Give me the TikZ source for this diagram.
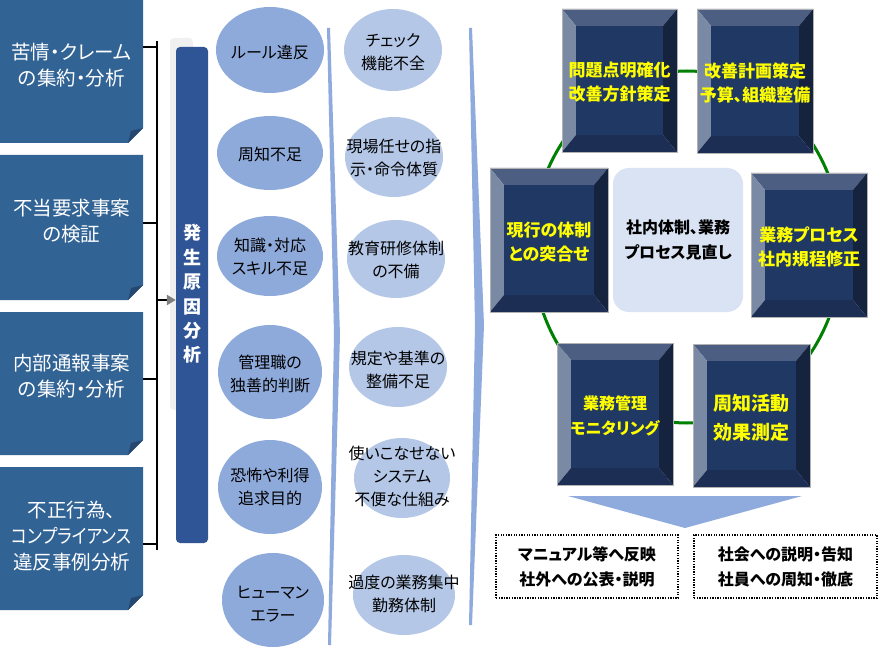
\documentclass[tikz,border=0pt]{standalone}
\usepackage{fontspec}
\setmainfont{Noto Sans CJK JP}[RawFeature=+palt]
\usetikzlibrary{arrows.meta}
\definecolor{lbblue}{RGB}{49,99,149}
\definecolor{lbfold}{RGB}{36,72,112}
\definecolor{pilblue}{RGB}{47,85,151}
\definecolor{pilshadow}{RGB}{240,240,240}
\definecolor{ellA}{RGB}{142,170,219}
\definecolor{ellB}{RGB}{180,199,231}
\definecolor{chev}{RGB}{143,170,220}
\definecolor{bface}{RGB}{32,56,100}
\definecolor{btop}{RGB}{76,94,130}
\definecolor{bleft}{RGB}{122,138,165}
\definecolor{bright}{RGB}{21,35,62}
\definecolor{bbottom}{RGB}{28,46,84}
\definecolor{cyc}{RGB}{0,128,0}
\definecolor{centerfill}{RGB}{218,227,243}
\definecolor{ytext}{RGB}{255,255,0}
\tikzset{
  lbtext/.style={text=white, font=\fontsize{19.5}{26}\selectfont, align=center, inner sep=0pt},
  brk/.style={line width=2.6pt, draw=black},
  pillar/.style={fill=pilblue, rounded corners=4pt, inner sep=0pt, minimum width=32pt, minimum height=496pt},
  piltext/.style={text=white, font=\bfseries\fontsize{18}{24.4}\selectfont, align=center, inner sep=0pt},
  elltext/.style={text=black, font=\fontsize{16}{23}\selectfont, align=center, inner sep=0pt},
  bevtext/.style={text=ytext, font=\bfseries\fontsize{17}{24}\selectfont, align=center, inner sep=0pt},
  centerbox/.style={fill=centerfill, rounded corners=16pt, minimum width=130pt, minimum height=144pt, inner sep=0pt, text=black, font=\bfseries\fontsize{16}{25}\selectfont, align=center},
  dotbox/.style={draw=black, line width=1.3pt, dash pattern=on 1.3pt off 1.3pt, minimum height=63pt, inner sep=0pt, text=black, font=\bfseries\fontsize{16}{25}\selectfont, align=center},
}
\newcommand\LBox[5]{%
  \fill[lbblue] (0,#2) -- (143,#2) -- (143,{#3-15}) -- (128,#3) -- (0,#3) -- cycle;
  \fill[lbfold] (143,{#3-15}) -- (128,#3) -- (131,{#3-12}) -- cycle;
  \node[lbtext] (#1) at (71.5,#4) {#5};
}
\newcommand\Bevel[7]{%
  \fill[btop] (#2,#3) -- (#4,#3) -- ({#4-14},{#3+17}) -- ({#2+14},{#3+17}) -- cycle;
  \fill[bleft] (#2,#3) -- ({#2+14},{#3+17}) -- ({#2+14},{#5-17}) -- (#2,#5) -- cycle;
  \fill[bright] (#4,#3) -- (#4,#5) -- ({#4-14},{#5-17}) -- ({#4-14},{#3+17}) -- cycle;
  \fill[bbottom] (#2,#5) -- ({#2+14},{#5-17}) -- ({#4-14},{#5-17}) -- (#4,#5) -- cycle;
  \fill[bface] ({#2+14},{#3+17}) rectangle ({#4-14},{#5-17});
  \draw[gray!60, line width=0.6pt] (#2,#3) rectangle (#4,#5);
  \node[bevtext,#6] (#1) at ({(#2+#4)/2},{(#3+#5)/2+2}) {#7};
}
\begin{document}
\begin{tikzpicture}[x=1pt,y=-1pt]
\useasboundingbox (0,0) rectangle (878,647);
\fill[white] (0,0) rectangle (878,647);

% left boxes
\LBox{lb1}{0}{143}{65}{苦情・クレーム\\の集約・分析}
\LBox{lb2}{155}{300}{221}{不当要求事案\\の検証}
\LBox{lb3}{312}{455}{376}{内部通報事案\\の集約・分析}
\LBox{lb4}{467}{610}{536}{不正行為、\\\scalebox{0.86}[1]{コンプライアンス}\\違反事例分析}

% pillar
\fill[pilshadow, rounded corners=4pt] (170,38) rectangle (193,410);
\node[pillar] (pil) at (192,295) {};
\node[piltext] (pilt) at (192,294) {発\\生\\原\\因\\分\\析};

% bracket
\coordinate (brtop) at (157,41);
\coordinate (brbot) at (157,550);
\draw[brk] (brtop) -- (brbot);
\draw[brk] (143,47) -- (brtop |- 0,47);
\draw[brk] (143,223) -- (brtop |- 0,223);
\draw[brk] (143,379) -- (brtop |- 0,379);
\draw[brk] (143,544) -- (brtop |- 0,544);
\draw[brk, -{Triangle[length=9pt,width=10pt,color=gray]}] (brtop |- 0,300) -- (pil.west |- 0,300);

% column 1 ellipses
\fill[ellA] (270,50) ellipse [x radius=54pt, y radius=43pt];
\fill[ellA] (270,153) ellipse [x radius=53pt, y radius=37pt];
\fill[ellA] (270,256) ellipse [x radius=53pt, y radius=40pt];
\fill[ellA] (270,372) ellipse [x radius=52pt, y radius=47pt];
\fill[ellA] (270,487) ellipse [x radius=52pt, y radius=47pt];
\fill[ellA] (273,600) ellipse [x radius=51pt, y radius=47pt];
\node[elltext] (a1) at (270,52) {ルール違反};
\node[elltext] (a2) at (270,154) {周知不足};
\node[elltext] (a3) at (270,257) {知識・対応\\スキル不足};
\node[elltext] (a4) at (270,374) {管理職の\\独善的判断};
\node[elltext] (a5) at (270,487) {恐怖や利得\\追求目的};
\node[elltext] (a6) at (273,604) {ヒューマン\\エラー};

% chevrons
\fill[chev] (327,28) -- (330,28) -- (340,335) -- (331,645) -- (328,645) -- (334,335) -- cycle;
\fill[chev] (469,28) -- (472,28) -- (484,325) -- (472,625) -- (469,625) -- (475,325) -- cycle;

% column 2 ellipses
\fill[ellB] (393,50) ellipse [x radius=49pt, y radius=41pt];
\fill[ellB] (394,157) ellipse [x radius=49pt, y radius=40pt];
\fill[ellB] (396,259) ellipse [x radius=49pt, y radius=39pt];
\fill[ellB] (398,367) ellipse [x radius=49pt, y radius=40pt];
\fill[ellB] (402,478) ellipse [x radius=48pt, y radius=40pt];
\fill[ellB] (404,595) ellipse [x radius=51pt, y radius=40pt];
\node[elltext] (c1) at (393,52) {チェック\\機能不全};
\node[elltext] (c2) at (394,158) {現場任せの指\\示・命令体質};
\node[elltext] (c3) at (396,260) {教育研修体制\\の不備};
\node[elltext] (c4) at (398,370) {規定や基準の\\整備不足};
\node[elltext] (c5) at (402,476) {使いこなせない\\システム\\不便な仕組み};
\node[elltext] (c6) at (404,594) {過度の業務集中\\勤務体制};

% cycle
\draw[cyc, line width=3pt] (687,247) ellipse [x radius=155pt, y radius=176pt];
\Bevel{b1}{562}{9}{677}{152}{}{問題点明確化\\改善方針策定}
\Bevel{b2}{697}{9}{813}{153}{}{改善計画策定\\予算、組織整備}
\Bevel{b3}{490}{168}{608}{312}{}{現行の体制\\との突合せ}
\Bevel{b4}{751}{173}{867}{317}{}{業務プロセス\\社内規程修正}
\Bevel{b5}{557}{343}{673}{485}{font=\bfseries\fontsize{16}{25}\selectfont}{業務管理\\モニタリング}
\Bevel{b6}{693}{344}{810}{487}{font=\bfseries\fontsize{19}{29}\selectfont}{周知活動\\効果測定}
\node[centerbox] (cen) at (678,240) {社内体制、業務\\プロセス見直し};

% down arrow
\fill[chev] (568,496) -- (802,496) -- (685,528) -- cycle;

% output boxes
\node[dotbox, minimum width=182pt] (o1) at (587,566.5) {マニュアル等へ反映\\社外への公表・説明};
\node[dotbox, minimum width=183pt] (o2) at (785.5,566.5) {社会への説明・告知\\社員への周知・徹底};
\end{tikzpicture}
\end{document}
